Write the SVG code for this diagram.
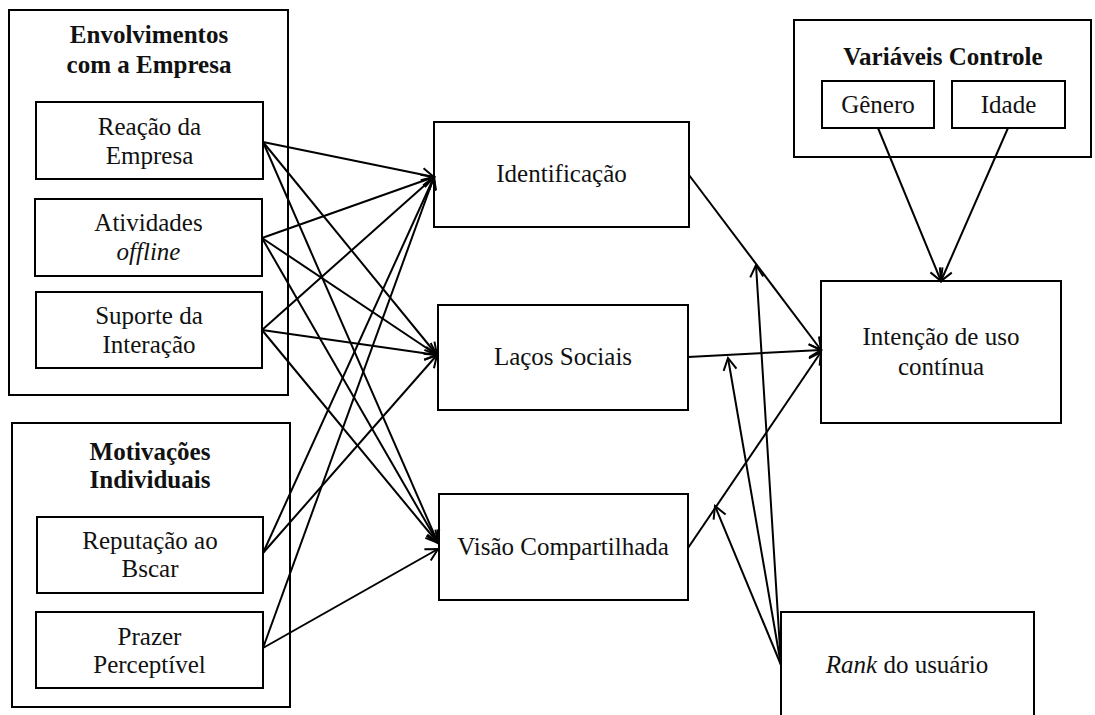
<svg xmlns="http://www.w3.org/2000/svg" width="1095" height="715" viewBox="0 0 1095 715">
  <defs>
    <style>
      .box { fill: #fff; stroke: #000; stroke-width: 2; }
      .grp { fill: none; stroke: #000; stroke-width: 2; }
      .t { font-family: "Liberation Serif", "Times New Roman", serif; font-size: 25px; fill: #111; text-anchor: middle; }
      .h { font-family: "Liberation Serif", "Times New Roman", serif; font-size: 25px; font-weight: bold; fill: #111; text-anchor: middle; }
      .c line { stroke: #000; stroke-width: 2; marker-end: url(#arr); }
    </style>
    <marker id="arr" markerUnits="userSpaceOnUse" markerWidth="16" markerHeight="16" viewBox="0 0 16 16" refX="14" refY="8" orient="auto">
      <path d="M2,1.5 L14,8 L2,14.5" fill="none" stroke="#000" stroke-width="2"/>
    </marker>
  </defs>
  <rect width="1095" height="715" fill="#fff"/>

  <!-- company involvement group -->
  <g id="envolvimentos">
    <rect class="grp" x="9" y="10" width="279" height="385"/>
    <text class="h" x="149" y="43">Envolvimentos</text>
    <text class="h" x="149" y="73">com a Empresa</text>
  </g>
  <g id="reacao">
    <rect class="box" x="36" y="102" width="227" height="77"/>
    <text class="t" x="149.5" y="135">Reação da</text>
    <text class="t" x="149.5" y="164">Empresa</text>
  </g>
  <g id="atividades">
    <rect class="box" x="35" y="199" width="227" height="77"/>
    <text class="t" x="148.5" y="231">Atividades</text>
    <text class="t" x="148.5" y="260" font-style="italic">offline</text>
  </g>
  <g id="suporte">
    <rect class="box" x="36" y="292" width="226" height="76"/>
    <text class="t" x="149" y="324">Suporte da</text>
    <text class="t" x="149" y="353">Interação</text>
  </g>

  <!-- individual motivations group -->
  <g id="motivacoes">
    <rect class="grp" x="12" y="423" width="278" height="284"/>
    <text class="h" x="150" y="460">Motivações</text>
    <text class="h" x="150" y="488">Individuais</text>
  </g>
  <g id="reputacao">
    <rect class="box" x="37" y="517" width="226" height="76"/>
    <text class="t" x="150" y="549">Reputação ao</text>
    <text class="t" x="150" y="577">Bscar</text>
  </g>
  <g id="prazer">
    <rect class="box" x="36" y="612" width="227" height="76"/>
    <text class="t" x="149.5" y="645">Prazer</text>
    <text class="t" x="149.5" y="673">Perceptível</text>
  </g>

  <!-- mediators -->
  <g id="identificacao">
    <rect class="box" x="434" y="122" width="255" height="105"/>
    <text class="t" x="561.5" y="182">Identificação</text>
  </g>
  <g id="lacos">
    <rect class="box" x="438" y="305" width="250" height="105"/>
    <text class="t" x="563" y="365">Laços Sociais</text>
  </g>
  <g id="visao">
    <rect class="box" x="439" y="494" width="249" height="106"/>
    <text class="t" x="563" y="555">Visão Compartilhada</text>
  </g>

  <!-- outcome -->
  <g id="intencao">
    <rect class="box" x="821" y="281" width="240" height="142"/>
    <text class="t" x="941" y="345">Intenção de uso</text>
    <text class="t" x="941" y="375">contínua</text>
  </g>

  <!-- control variables -->
  <g id="controle">
    <rect class="grp" x="794" y="20" width="297" height="137"/>
    <text class="h" x="943" y="65">Variáveis Controle</text>
  </g>
  <g id="genero">
    <rect class="box" x="822" y="81" width="112" height="47"/>
    <text class="t" x="878" y="113">Gênero</text>
  </g>
  <g id="idade">
    <rect class="box" x="952" y="81" width="113" height="47"/>
    <text class="t" x="1008.5" y="113">Idade</text>
  </g>

  <!-- moderator -->
  <g id="rank">
    <rect class="box" x="781" y="612" width="253" height="110"/>
    <text class="t" x="907" y="673"><tspan font-style="italic">Rank</tspan> do usuário</text>
  </g>

  <g id="connectors" class="c">
    <!-- company involvement -> mediators -->
    <line x1="263" y1="142" x2="434" y2="177"/>
    <line x1="263" y1="142" x2="437" y2="355"/>
    <line x1="263" y1="142" x2="438" y2="543"/>
    <line x1="262" y1="238" x2="434" y2="177"/>
    <line x1="262" y1="238" x2="437" y2="355"/>
    <line x1="262" y1="238" x2="438" y2="543"/>
    <line x1="262" y1="330" x2="434" y2="177"/>
    <line x1="262" y1="330" x2="437" y2="355"/>
    <line x1="262" y1="330" x2="438" y2="543"/>
    <!-- individual motivations -> mediators -->
    <line x1="263" y1="553" x2="434" y2="177"/>
    <line x1="263" y1="553" x2="437" y2="355"/>
    <line x1="263" y1="648" x2="434" y2="177"/>
    <line x1="263" y1="648" x2="438" y2="549"/>
    <!-- mediators -> outcome -->
    <line x1="689" y1="175" x2="821" y2="350"/>
    <line x1="688" y1="357" x2="821" y2="350"/>
    <line x1="688" y1="548" x2="821" y2="352"/>
    <!-- controls -> outcome -->
    <line x1="878" y1="128" x2="941" y2="281"/>
    <line x1="1008" y1="128" x2="941" y2="281"/>
    <!-- moderation by rank -->
    <line x1="781" y1="665" x2="756" y2="265"/>
    <line x1="781" y1="665" x2="728" y2="358"/>
    <line x1="781" y1="665" x2="715" y2="506"/>
  </g>
</svg>
